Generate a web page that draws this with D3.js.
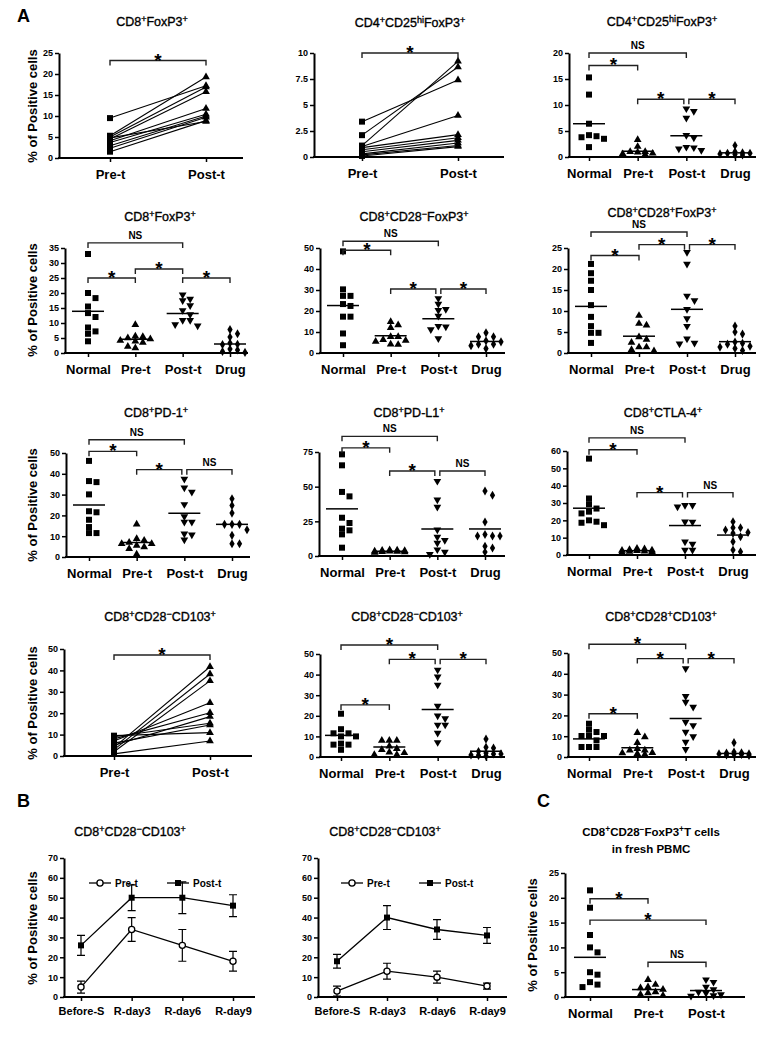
<!DOCTYPE html>
<html><head><meta charset="utf-8">
<script src="https://cdn.jsdelivr.net/npm/d3@7"></script>
<style>body{margin:0;background:#fff}svg{display:block}</style>
</head><body><svg id="c" width="767" height="1050"></svg>
<script>
// ---------- categories ----------
const groups4 = ["Normal", "Pre-t", "Post-t", "Drug"];
const groups2 = ["Pre-t", "Post-t"];
const groups3 = ["Normal", "Pre-t", "Post-t"];
const daysB = ["Before-S", "R-day3", "R-day6", "R-day9"];
const seriesB = ["Pre-t", "Post-t"];

// ---------- tick labels ----------
const ticks25 = [0, 5, 10, 15, 20, 25];
const ticks10h = [0, 2.5, 5, 7.5, 10];
const ticks20 = [0, 5, 10, 15, 20];
const ticks35 = [0, 5, 10, 15, 20, 25, 30, 35];
const ticks50 = [0, 10, 20, 30, 40, 50];
const ticks75 = [0, 25, 50, 75];
const ticks60 = [0, 10, 20, 30, 40, 50, 60];
const ticks70 = [0, 10, 20, 30, 40, 50, 60, 70];

// ---------- Panel A1: CD8+FoxP3+ (paired) ----------
const a1Pre  = [9.5, 5.3, 5.0, 4.5, 4.1, 3.7, 2.9, 2.3, 1.5, 4.8];
const a1Post = [17.2, 19.3, 16.9, 15.8, 11.8, 10.4, 10.0, 9.7, 8.9, 8.7];
// ---------- Panel A2: CD4+CD25hiFoxP3+ (paired) ----------
const a2Pre  = [3.4, 2.1, 1.1, 1.0, 0.9, 0.7, 0.5, 0.3, 0.2, 0.1];
const a2Post = [7.4, 8.65, 9.2, 4.0, 2.15, 1.85, 1.6, 1.35, 1.1, 1.0];
// ---------- Panel A3: CD4+CD25hiFoxP3+ ----------
const a3Normal = [15.3, 12.0, 6.4, 4.2, 3.8, 3.5, 4.0, 1.9];
const a3Pre    = [3.3, 2.0, 1.0, 0.7, 0.9, 0.6, 1.0, 0.5];
const a3Post   = [9.3, 8.8, 7.5, 4.2, 3.7, 1.9, 1.8, 1.6, 1.3];
const a3Drug   = [2.2, 1.0, 0.7, 0.6, 0.5, 0.7, 0.8, 0.4];
const a3Means  = [6.4, 1.1, 4.1, 0.8];
// ---------- Panel A4: CD8+FoxP3+ ----------
const a4Normal = [33, 20, 18.3, 15.5, 13.3, 12, 8.5, 7.2, 6.4, 3.9];
const a4Pre    = [9.4, 5.6, 5.4, 5.0, 4.7, 4.2, 3.9, 3.5, 2.2, 1.7];
const a4Post   = [19.4, 18.0, 17.5, 15.8, 14.2, 12.8, 10.9, 10.9, 9.1, 9.5];
const a4Drug   = [7.8, 6.4, 5.3, 3.3, 2.9, 2.8, 1.3, 1.0, 0.5, 0.2];
const a4Means  = [13.9, 4.6, 13.2, 3.0];
// ---------- Panel A5: CD8+CD28-FoxP3+ ----------
const a5Normal = [48.4, 30.3, 27.2, 27.2, 23.3, 22.4, 17.3, 17.3, 9.3, 3.7];
const a5Pre    = [14.9, 13.3, 12.0, 7.7, 7.7, 6.3, 6.0, 5.5, 4.2, 4.0];
const a5Post   = [26.0, 23.3, 20.8, 20.4, 17.6, 12.8, 12.5, 11.2, 6.9];
const a5Drug   = [9.6, 7.7, 7.7, 5.3, 4.2, 4.2, 5.8, 2.1, 3.5];
const a5Means  = [22.6, 8.2, 16.3, 5.5];
// ---------- Panel A6: CD8+CD28+FoxP3+ ----------
const a6Normal = [21.2, 19.0, 17.2, 15.0, 11.4, 8.6, 6.4, 4.8, 4.8, 2.4];
const a6Pre    = [8.9, 7.0, 6.6, 3.8, 3.2, 2.5, 1.4, 1.4, 0.5, 0.8];
const a6Post   = [24, 21.2, 13.6, 12.5, 10.4, 8.2, 6.4, 3.4, 2.2, 2.4];
const a6Drug   = [6.4, 5.0, 4.5, 2.6, 2.3, 2.1, 1.6, 1.4, 0.6, 1.1];
const a6Means  = [11.1, 4.0, 10.4, 2.7];
// ---------- Panel A7: CD8+PD-1+ ----------
const a7Normal = [46.2, 36.0, 36.5, 30.1, 22.0, 21.5, 17.9, 14.4, 11.5, 11.5];
const a7Pre    = [15.7, 8.8, 8.0, 7.0, 6.4, 6.4, 5.5, 4.8, 4.0, 1.3];
const a7Post   = [37.5, 33.3, 31.2, 25.3, 19.5, 16.8, 16.8, 11.2, 10.7, 8.3];
const a7Drug   = [28, 24.8, 21.1, 15.7, 15.7, 15.7, 13.1, 10.4, 6.4, 6.4];
const a7Means  = [25.0, 7.0, 21.0, 15.7];
// ---------- Panel A8: CD8+PD-L1+ ----------
const a8Normal = [73.3, 65.4, 46.2, 43.0, 27.6, 23.8, 19.7, 18.5, 15.6, 6.0];
const a8Pre    = [4.4, 4.0, 3.8, 3.5, 3.0, 2.6, 3.2, 2.8, 4.1, 3.4];
const a8Post   = [54, 40.6, 35.3, 19, 13.7, 11.3, 9.4, 4.6, 2.9, 1.2];
const a8Drug   = [46.9, 43.8, 24.5, 15.5, 14.4, 14.4, 14.4, 7.0, 5.8, 2.9];
const a8Means  = [34.0, 3.5, 19.5, 19.5];
// ---------- Panel A9: CD8+CTLA-4+ ----------
const a9Normal = [55.6, 32.6, 29.3, 26.8, 25.0, 24.0, 20.0, 19.2, 18.6, 17.2];
const a9Pre    = [3.8, 3.5, 3.0, 2.7, 2.5, 2.2, 2.0, 1.8, 1.5, 2.6];
const a9Post   = [28.7, 27.8, 28.7, 19.2, 19.0, 7.7, 6.3, 2.9, 2.9];
const a9Drug   = [19.2, 15.7, 15.7, 14.4, 13.0, 12.5, 10.5, 7.7, 2.9, 1.9];
const a9Means  = [27.0, 2.5, 17.0, 11.5];
// ---------- Panel A10: CD8+CD28-CD103+ (paired) ----------
const a10Pre  = [9.5, 9.0, 8.0, 7.0, 6.0, 5.0, 4.0, 3.0, 2.0, 1.0];
const a10Post = [10.9, 15.3, 20.2, 24.9, 14.5, 18.4, 41.7, 38.3, 35.1, 7.0];
// ---------- Panel A11: CD8+CD28-CD103+ ----------
const a11Normal = [21, 13.5, 11.5, 11.5, 10.0, 10.0, 6.5, 6.0, 6.0, 3.5];
const a11Pre    = [8.0, 8.0, 8.0, 5.2, 4.0, 3.5, 2.3, 1.1, 1.1, 2.0];
const a11Post   = [42.3, 39.0, 35.0, 24.8, 20.0, 18.7, 15.6, 15.6, 11.6, 7.1];
const a11Drug   = [8.7, 4.7, 4.4, 2.7, 1.9, 1.5, 1.0, 1.5, 0.8, 0.5];
const a11Means  = [10.5, 4.8, 23.0, 2.8];
// ---------- Panel A12: CD8+CD28+CD103+ ----------
const a12Normal = [16, 13.1, 12, 10.1, 10.1, 10.1, 8, 4.8, 4.8, 4.8];
const a12Pre    = [11.7, 9.6, 6.9, 4.0, 3.2, 3.2, 1.9, 1.6, 1.2, 2.0];
const a12Post   = [42.5, 29.2, 26.4, 24, 16.8, 15.2, 12, 9.9, 7.2, 3.7];
const a12Drug   = [6.9, 2.4, 2.0, 1.9, 1.5, 1.2, 1.0, 0.8, 1.5, 1.3];
const a12Means  = [8.7, 4.5, 18.5, 1.7];
// ---------- Panel B ----------
const b1Pre = [5, 34, 26, 18];      const b1PreErr = [3, 6, 8, 5];
const b1Post = [26, 50, 50, 46];    const b1PostErr = [5, 6.5, 8, 5.5];
const b2Pre = [3, 13, 10, 5.5];     const b2PreErr = [2.5, 4, 3, 1.5];
const b2Post = [18, 40, 34, 31];    const b2PostErr = [3.5, 6, 5, 4];
// ---------- Panel C ----------
const cNormal = [21.5, 18.0, 12.5, 10.0, 9.0, 5.0, 4.5, 3.0, 2.5, 2.0];
const cPre    = [3.5, 2.5, 2.0, 1.8, 1.5, 1.0, 0.8, 0.5, 0.3];
const cPost   = [3.5, 3.0, 2.0, 1.5, 1.0, 0.8, 0.5, 0.3, 0.2];
const cMeans  = [8.0, 1.5, 1.3];

// ---------- brackets: [fromIdx, toIdx, value, label] ----------
const br1 = [[0, 1, 23.2, "*"]];
const br2 = [[0, 1, 10.0, "*"]];
const br3 = [[0, 2, 20, "NS"], [0, 1, 17.6, "*"], [1, 2, 11.1, "*"], [2, 3, 11.1, "*"]];
const br4 = [[0, 2, 36.7, "NS"], [0, 1, 25, "*"], [1, 2, 28, "*"], [2, 3, 25, "*"]];
const br5 = [[0, 2, 53.2, "NS"], [0, 1, 48.9, "*"], [1, 2, 30.5, "*"], [2, 3, 30.5, "*"]];
const br6 = [[0, 2, 28.8, "NS"], [0, 1, 23.2, "*"], [1, 2, 25.8, "*"], [2, 3, 25.8, "*"]];
const br7 = [[0, 2, 56.4, "NS"], [0, 1, 50.8, "*"], [1, 2, 42, "*"], [2, 3, 42, "NS"]];
const br8 = [[0, 2, 86.3, "NS"], [0, 1, 78, "*"], [1, 2, 61.3, "*"], [2, 3, 61.3, "NS"]];
const br9 = [[0, 2, 67.6, "NS"], [0, 1, 60.7, "*"], [1, 2, 36, "*"], [2, 3, 36, "NS"]];
const br10 = [[0, 1, 47.2, "*"]];
const br11 = [[0, 2, 54.4, "*"], [1, 2, 47.4, "*"], [2, 3, 47.4, "*"], [0, 1, 25.3, "*"]];
const br12 = [[0, 2, 54.2, "*"], [1, 2, 47.3, "*"], [2, 3, 47.3, "*"], [0, 1, 20.8, "*"]];
const brC = [[0, 1, 19.8, "*"], [0, 2, 15.5, "*"], [1, 2, 7, "NS"]];

// ---------- titles ----------
const tA1 = "CD8{+}FoxP3{+}";
const tA2 = "CD4{+}CD25{hi}FoxP3{+}";
const tA4 = "CD8{+}FoxP3{+}";
const tA5 = "CD8{+}CD28{−}FoxP3{+}";
const tA6 = "CD8{+}CD28{+}FoxP3{+}";
const tA7 = "CD8{+}PD-1{+}";
const tA8 = "CD8{+}PD-L1{+}";
const tA9 = "CD8{+}CTLA-4{+}";
const tA10 = "CD8{+}CD28{−}CD103{+}";
const tA12 = "CD8{+}CD28{+}CD103{+}";
const tC1 = "CD8{+}CD28{−}FoxP3{+}T cells";
const tC2 = "in fresh PBMC";
const yLabel = "% of Positive cells";

// ================= drawing =================
const FONT = "'Liberation Sans', Arial, Helvetica, sans-serif";
const svg = d3.select("#c").attr("font-family", FONT);
svg.append("rect").attr("width", 767).attr("height", 1050).attr("fill", "#fff");

function richText(x, y, str, fs, supFs, weight) {
  const t = svg.append("text").attr("x", x).attr("y", y).attr("text-anchor", "middle")
    .attr("font-size", fs).attr("font-weight", weight || "normal").attr("fill", "#000");
  if (!weight) t.attr("stroke", "#000").attr("stroke-width", 0.35);
  const parts = str.split(/(\{[^}]*\})/).filter(s => s.length);
  let shifted = false;
  parts.forEach(p => {
    if (p.startsWith("{")) {
      t.append("tspan").attr("font-size", supFs).attr("dy", shifted ? 0 : -4.5).text(p.slice(1, -1));
      shifted = true;
    } else {
      t.append("tspan").attr("font-size", fs).attr("dy", shifted ? 4.5 : 0).text(p);
      shifted = false;
    }
  });
}

function yTitle(x, cy) {
  svg.append("text").attr("transform", `translate(${x},${cy}) rotate(-90)`)
    .attr("text-anchor", "middle").attr("font-size", 13).attr("font-weight", "bold").text(yLabel);
}

function styleAxis(g, fs) {
  g.attr("font-family", FONT);
  g.selectAll("text").attr("font-size", fs).attr("font-weight", "bold").attr("fill", "#000");
  g.selectAll(".tick line").attr("stroke-width", 1.5).attr("stroke", "#000");
  g.select(".domain").attr("stroke-width", 2).attr("stroke", "#000");
}

function axes(L, y, x, ticks, catFs) {
  const fmt = d => String(d);
  const gy = svg.append("g").attr("transform", `translate(${L.ax},0)`)
    .call(d3.axisLeft(y).tickValues(ticks).tickFormat(fmt).tickSize(4).tickSizeOuter(0).tickPadding(2));
  styleAxis(gy, 9);
  const gx = svg.append("g").attr("transform", `translate(0,${L.y0})`)
    .call(d3.axisBottom(x).tickSize(4).tickPadding(L.tp || 8));
  gx.select(".domain").remove();
  styleAxis(gx, catFs || 13);
  svg.append("line").attr("x1", L.ax - 1).attr("x2", L.xEnd).attr("y1", L.y0).attr("y2", L.y0)
    .attr("stroke", "#000").attr("stroke-width", 2);
}

function brackets(list, x, y, cats) {
  list.forEach(([a, b, v, lab]) => {
    const yy = y(v);
    const share = (idx) => list.some(o => o[2] === v && (o[0] !== a || o[1] !== b) && (o[0] === idx || o[1] === idx));
    const xa = x(cats[a]) + (share(a) ? 2.5 : 0);
    const xb = x(cats[b]) - (share(b) ? 2.5 : 0);
    svg.append("path").attr("d", `M${xa},${yy + 5}V${yy}H${xb}V${yy + 5}`)
      .attr("fill", "none").attr("stroke", "#222").attr("stroke-width", 1.4);
    const t = svg.append("text").attr("x", (xa + xb) / 2).attr("text-anchor", "middle")
      .attr("font-weight", "bold").attr("fill", "#000").text(lab);
    if (lab === "*") t.attr("y", yy + 6).attr("font-size", 19);
    else t.attr("y", yy - 4).attr("font-size", 10);
  });
}

const sym = {
  square: d3.symbol().type(d3.symbolSquare).size(36),
  tri: d3.symbol().type(d3.symbolTriangle).size(26),
  diamond: d3.symbol().type(d3.symbolDiamond).size(24),
  circle: d3.symbol().type(d3.symbolCircle).size(30)
};
const shapes = ["square", "tri", "itri", "diamond"];

function marker(px, py, shape, fill) {
  const s = shape === "itri" ? "tri" : shape;
  svg.append("path").attr("d", sym[s]())
    .attr("transform", `translate(${px},${py})` + (shape === "itri" ? " rotate(180)" : ""))
    .attr("fill", fill || "#000").attr("stroke", "#000").attr("stroke-width", fill === "#fff" ? 1.3 : 0);
}

// simple column-scatter placement: spread overlapping points sideways, at most 2 steps each side
function dodge(vals, y, cx, step) {
  const placed = [];
  const order = vals.map(v => ({ v, y: y(v) })).sort((a, b) => a.y - b.y);
  const offs = [0, 1, -1, 2, -2].map(k => k * step);
  order.forEach(p => {
    let best = null, bestD = -1;
    for (const off of offs) {
      const px = cx + off;
      const dmin = d3.min(placed, q => Math.hypot((q.x - px) / step * 6.5, q.y - p.y)) ?? Infinity;
      if (dmin >= 5.5) { best = px; break; }
      if (dmin > bestD) { bestD = dmin; best = px; }
    }
    p.x = best; placed.push(p);
  });
  return placed;
}

function scatterPanel(L, title, max, ticks, cats, series, means, brs) {
  const y = d3.scaleLinear().domain([0, max]).range([L.y0, L.yTop]);
  const x = d3.scalePoint().domain(cats).range(L.cr);
  axes(L, y, x, ticks);
  richText(L.tx, L.ty, title, 12.5, 9);
  series.forEach((vals, i) => {
    dodge(vals, y, x(cats[i]), 7.5).forEach(p => marker(p.x, p.y, shapes[i]));
    svg.append("line").attr("x1", x(cats[i]) - 16).attr("x2", x(cats[i]) + 16)
      .attr("y1", y(means[i])).attr("y2", y(means[i])).attr("stroke", "#000").attr("stroke-width", 1.5);
  });
  brackets(brs, x, y, cats);
}

function pairedPanel(L, title, max, ticks, pre, post, brs) {
  const y = d3.scaleLinear().domain([0, max]).range([L.y0, L.yTop]);
  const x = d3.scalePoint().domain(groups2).range(L.cr);
  axes(L, y, x, ticks);
  richText(L.tx, L.ty, title, 12.5, 9);
  pre.forEach((v, i) => {
    svg.append("line").attr("x1", x("Pre-t")).attr("x2", x("Post-t"))
      .attr("y1", y(v)).attr("y2", y(post[i])).attr("stroke", "#000").attr("stroke-width", 1.1);
  });
  pre.forEach(v => marker(x("Pre-t"), y(v), "square"));
  post.forEach(v => marker(x("Post-t"), y(v), "tri"));
  brackets(brs, x, y, groups2);
}

// panel letters
svg.append("text").attr("x", 17).attr("y", 22).attr("font-size", 18).attr("font-weight", "bold").text("A");
svg.append("text").attr("x", 17).attr("y", 807).attr("font-size", 18).attr("font-weight", "bold").text("B");
svg.append("text").attr("x", 537).attr("y", 807).attr("font-size", 18).attr("font-weight", "bold").text("C");

// y titles
yTitle(37, 106); yTitle(37, 300); yTitle(37, 505); yTitle(37, 703); yTitle(37, 928); yTitle(537, 935);

// Row 1
pairedPanel({ ax: 59, y0: 158, yTop: 53, xEnd: 243, cr: [110, 206], tx: 152, ty: 26 }, tA1, 25, ticks25, a1Pre, a1Post, br1);
pairedPanel({ ax: 314, y0: 157, yTop: 53, xEnd: 504, cr: [362, 458], tx: 410, ty: 27 }, tA2, 10, ticks10h, a2Pre, a2Post, br2);
scatterPanel({ ax: 569, y0: 157, yTop: 53, xEnd: 756, cr: [589, 735], tx: 662, ty: 26 }, tA2, 20, ticks20, groups4,
  [a3Normal, a3Pre, a3Post, a3Drug], a3Means, br3);
// Row 2
scatterPanel({ ax: 65, y0: 353, yTop: 248, xEnd: 248, cr: [88, 230], tx: 160, ty: 221 }, tA4, 35, ticks35, groups4,
  [a4Normal, a4Pre, a4Post, a4Drug], a4Means, br4);
scatterPanel({ ax: 320, y0: 353, yTop: 248, xEnd: 505, cr: [343, 486], tx: 414, ty: 221 }, tA5, 50, ticks50, groups4,
  [a5Normal, a5Pre, a5Post, a5Drug], a5Means, br5);
scatterPanel({ ax: 568, y0: 353, yTop: 248, xEnd: 756, cr: [591, 735], tx: 662, ty: 217 }, tA6, 25, ticks25, groups4,
  [a6Normal, a6Pre, a6Post, a6Drug], a6Means, br6);
// Row 3
scatterPanel({ ax: 66, y0: 557, yTop: 453, xEnd: 250, cr: [89, 232], tx: 156, ty: 417 }, tA7, 50, ticks50, groups4,
  [a7Normal, a7Pre, a7Post, a7Drug], a7Means, br7);
scatterPanel({ ax: 319, y0: 556, yTop: 452, xEnd: 505, cr: [342, 485], tx: 409, ty: 417 }, tA8, 75, ticks75, groups4,
  [a8Normal, a8Pre, a8Post, a8Drug], a8Means, br8);
scatterPanel({ ax: 567, y0: 555, yTop: 451, xEnd: 756, cr: [589, 733], tx: 663, ty: 417 }, tA9, 60, ticks60, groups4,
  [a9Normal, a9Pre, a9Post, a9Drug], a9Means, br9);
// Row 4
pairedPanel({ ax: 64, y0: 756, yTop: 649, xEnd: 252, cr: [114, 210], tx: 160, ty: 621 }, tA10, 50, ticks50, a10Pre, a10Post, br10);
scatterPanel({ ax: 320, y0: 757, yTop: 654, xEnd: 505, cr: [341, 486], tx: 407, ty: 621 }, tA10, 50, ticks50, groups4,
  [a11Normal, a11Pre, a11Post, a11Drug], a11Means, br11);
scatterPanel({ ax: 568, y0: 757, yTop: 653, xEnd: 756, cr: [589, 734], tx: 661, ty: 621 }, tA12, 50, ticks50, groups4,
  [a12Normal, a12Pre, a12Post, a12Drug], a12Means, br12);

// ---------- Panel B ----------
function linePanel(L, title, pre, preErr, post, postErr, leg) {
  const y = d3.scaleLinear().domain([0, 70]).range([L.y0, L.yTop]);
  const x = d3.scalePoint().domain(daysB).range(L.cr);
  axes(Object.assign({ tp: 6 }, L), y, x, ticks70, 11);
  richText(L.tx, L.ty, title, 12.5, 9);
  const line = d3.line().x((d, i) => x(daysB[i])).y(d => y(d));
  [[pre, preErr, "#fff"], [post, postErr, "#000"]].forEach(([vals, err, fill]) => {
    vals.forEach((v, i) => {
      const cx = x(daysB[i]);
      svg.append("path").attr("d", `M${cx},${y(v - err[i])}V${y(v + err[i])}M${cx - 4},${y(v + err[i])}H${cx + 4}M${cx - 4},${y(v - err[i])}H${cx + 4}`)
        .attr("stroke", "#000").attr("stroke-width", 1.2).attr("fill", "none");
    });
    svg.append("path").attr("d", line(vals)).attr("fill", "none").attr("stroke", "#000").attr("stroke-width", 1.3);
    vals.forEach((v, i) => {
      if (fill === "#fff") marker(x(daysB[i]), y(v), "circle", "#fff");
      else marker(x(daysB[i]), y(v), "square");
    });
  });
  // legend
  seriesB.forEach((s, i) => {
    const lx = leg[i];
    svg.append("line").attr("x1", lx - 11).attr("x2", lx + 11).attr("y1", L.ly).attr("y2", L.ly)
      .attr("stroke", "#000").attr("stroke-width", 1.3);
    if (i === 0) marker(lx, L.ly, "circle", "#fff"); else marker(lx, L.ly, "square");
    svg.append("text").attr("x", lx + 15).attr("y", L.ly + 3.5).attr("font-size", 10)
      .attr("font-weight", "bold").text(s);
  });
}
linePanel({ ax: 64, y0: 997, yTop: 858, xEnd: 255, cr: [81, 233], tx: 130, ty: 836, ly: 883 }, tA10,
  b1Pre, b1PreErr, b1Post, b1PostErr, [100, 178]);
linePanel({ ax: 318, y0: 997, yTop: 858, xEnd: 507, cr: [337, 487], tx: 385, ty: 836, ly: 883 }, tA10,
  b2Pre, b2PreErr, b2Post, b2PostErr, [352, 430]);

// ---------- Panel C ----------
(function () {
  const L = { ax: 565, y0: 997, yTop: 873, xEnd: 745, cr: [590, 706] };
  const y = d3.scaleLinear().domain([0, 25]).range([L.y0, L.yTop]);
  const x = d3.scalePoint().domain(groups3).range(L.cr);
  axes(L, y, x, ticks25);
  richText(651, 836, tC1, 11.5, 8.5, "bold");
  richText(651, 853, tC2, 11.5, 8.5, "bold");
  [cNormal, cPre, cPost].forEach((vals, i) => {
    dodge(vals, y, x(groups3[i]), 7.5).forEach(p => marker(p.x, p.y, shapes[i]));
    svg.append("line").attr("x1", x(groups3[i]) - 16).attr("x2", x(groups3[i]) + 16)
      .attr("y1", y(cMeans[i])).attr("y2", y(cMeans[i])).attr("stroke", "#000").attr("stroke-width", 1.5);
  });
  brackets(brC, x, y, groups3);
})();
</script></body></html>
